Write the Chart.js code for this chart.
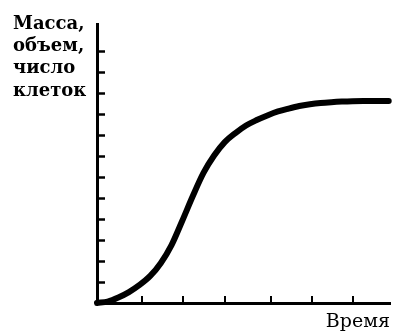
<!DOCTYPE html>
<html>
<head>
<meta charset="utf-8">
<style>
  html, body { margin: 0; padding: 0; background: #fff; }
  #wrap { width: 404px; height: 336px; }
</style>
<script src="https://cdn.jsdelivr.net/npm/chart.js@4"></script>
</head>
<body>
<div id="wrap"><canvas id="growth" width="404" height="336"></canvas></div>
<script>
// Growth curve: time vs. mass / volume / cell count (S-shaped)
const timeValues = [0, 0.25, 0.5, 0.75, 1.0, 1.25, 1.5, 1.75, 2.0, 2.25, 2.5, 2.75, 3.0, 3.25, 3.5, 3.75,
                    4.0, 4.25, 4.5, 4.75, 5.0, 5.25, 5.5, 5.75, 6.0, 6.25, 6.5, 6.85];
const sizeValues = [0, 0.07, 0.26, 0.52, 0.86, 1.29, 1.91, 2.76, 3.91, 5.10, 6.20, 7.03, 7.67, 8.10, 8.46, 8.72,
                    8.94, 9.13, 9.27, 9.39, 9.47, 9.53, 9.57, 9.60, 9.62, 9.63, 9.63, 9.63];

// Tick positions along each axis (unlabelled tick marks)
const timeTicks = [1.05, 2.02, 3, 4.09, 5.06, 6];
const sizeTicks = [1, 2, 3, 4, 5, 6, 7, 8, 9, 10, 11, 12];

const yLabelLines = ['Масса,', 'объем,', 'число', 'клеток'];
const xLabel = 'Время';

const points = timeValues.map((t, i) => ({ x: t, y: sizeValues[i] }));

// Short tick marks drawn inward from each axis line
const innerTicks = {
  id: 'innerTicks',
  afterDraw(chart) {
    const { ctx, chartArea, scales } = chart;
    ctx.save();
    ctx.strokeStyle = '#000';
    ctx.lineCap = 'butt';
    ctx.lineWidth = 2.5;
    scales.y.ticks.forEach(t => {
      const py = Math.round(scales.y.getPixelForValue(t.value)) + 0.5;
      ctx.beginPath();
      ctx.moveTo(chartArea.left, py);
      ctx.lineTo(chartArea.left + 8, py);
      ctx.stroke();
    });
    ctx.lineWidth = 2;
    scales.x.ticks.forEach(t => {
      const px = Math.round(scales.x.getPixelForValue(t.value));
      ctx.beginPath();
      ctx.moveTo(px, chartArea.bottom);
      ctx.lineTo(px, chartArea.bottom - 7);
      ctx.stroke();
    });
    ctx.restore();
  }
};

// Multi-line horizontal label for the value axis, top-left
const valueAxisLabel = {
  id: 'valueAxisLabel',
  afterDraw(chart) {
    const { ctx } = chart;
    ctx.save();
    ctx.fillStyle = '#000';
    ctx.font = 'bold 18px "DejaVu Serif"';
    ctx.textAlign = 'left';
    ctx.textBaseline = 'alphabetic';
    const baselines = [29, 51, 73, 96];
    yLabelLines.forEach((line, i) => ctx.fillText(line, 13, baselines[i]));
    ctx.restore();
  }
};

new Chart(document.getElementById('growth'), {
  type: 'line',
  data: {
    datasets: [{
      data: points,
      borderColor: '#000',
      borderWidth: 6,
      borderCapStyle: 'round',
      borderJoinStyle: 'round',
      pointRadius: 0,
      fill: false,
      cubicInterpolationMode: 'monotone',
      clip: false
    }]
  },
  options: {
    responsive: false,
    animation: false,
    events: [],
    layout: { padding: { left: 97, top: 24, right: 14, bottom: 2.6 } },
    plugins: { legend: { display: false }, tooltip: { enabled: false } },
    scales: {
      x: {
        type: 'linear',
        min: 0,
        max: 6.88,
        afterBuildTicks: scale => { scale.ticks = timeTicks.map(v => ({ value: v })); },
        ticks: { display: false },
        grid: { drawOnChartArea: false, drawTicks: false },
        border: { display: true, color: '#000', width: 3 },
        title: {
          display: true,
          text: xLabel,
          align: 'end',
          color: '#000',
          font: { family: '"DejaVu Serif"', size: 19, weight: 'normal' },
          padding: { top: 7.6, bottom: 0 }
        }
      },
      y: {
        type: 'linear',
        min: 0,
        max: 13.3,
        afterBuildTicks: scale => { scale.ticks = sizeTicks.map(v => ({ value: v })); },
        ticks: { display: false },
        grid: { drawOnChartArea: false, drawTicks: false },
        border: { display: true, color: '#000', width: 3 }
      }
    }
  },
  plugins: [innerTicks, valueAxisLabel]
});
</script>
</body>
</html>
